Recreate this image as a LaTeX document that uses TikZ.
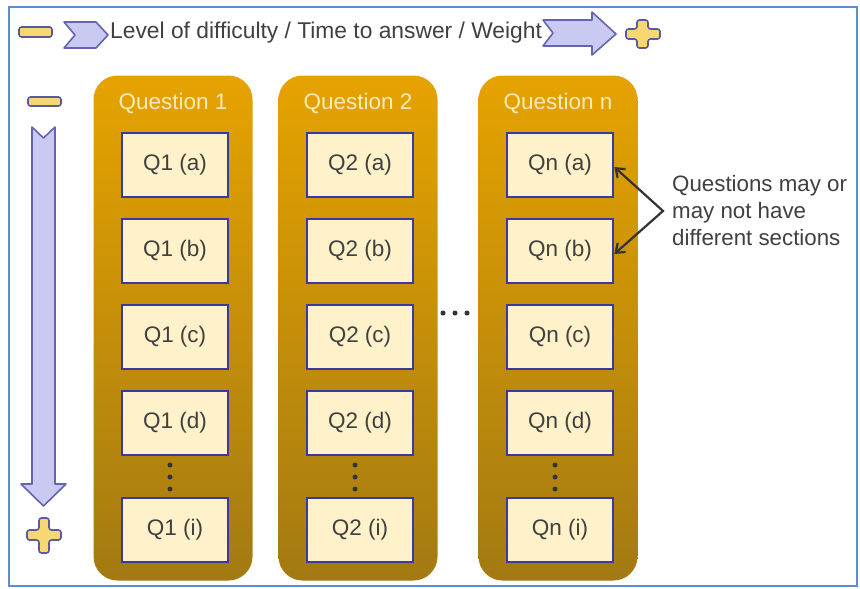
\documentclass[tikz,border=0pt]{standalone}
\usepackage{fontspec}
\setmainfont{Liberation Sans}
\usetikzlibrary{arrows.meta}
\definecolor{frameblue}{HTML}{5B8FCF}
\definecolor{coltop}{HTML}{E6A300}
\definecolor{colbot}{HTML}{A37A12}
\definecolor{boxfill}{HTML}{FFF1C9}
\definecolor{boxline}{HTML}{3A3A9E}
\definecolor{titletext}{HTML}{FCEBB8}
\definecolor{txt}{HTML}{404040}
\definecolor{lav}{HTML}{C9C9F2}
\definecolor{lavline}{HTML}{6464B0}
\definecolor{yel}{HTML}{F7D772}
\definecolor{yelline}{HTML}{5A5A9E}
\tikzset{
  column/.style={rounded corners=24pt, minimum width=159pt, minimum height=505pt,
     top color=coltop, bottom color=colbot, draw=none, inner sep=0pt},
  coltitle/.style={text=titletext, font=\fontsize{22.5}{24}\selectfont},
  qbox/.style={draw=boxline, line width=2.6pt, fill=boxfill, minimum width=106pt,
     minimum height=64pt, inner sep=0pt, text=txt, font=\fontsize{22.5}{24}\selectfont},
  vdot/.style={circle, fill=black!80, inner sep=0pt, minimum size=5pt},
  lavshape/.style={fill=lav, draw=lavline, line width=1.6pt, line join=round},
  yelshape/.style={fill=yel, draw=yelline, line width=1.6pt, rounded corners=2.5pt},
  note/.style={text=txt, font=\fontsize{22.3}{27}\selectfont, align=left},
  callout/.style={draw=black!80, line width=2.2pt, {Straight Barb[length=8pt,width=12pt]}-{Straight Barb[length=8pt,width=12pt]}}
}
\begin{document}
\begin{tikzpicture}[x=1pt,y=-1pt]
\useasboundingbox (0,0) rectangle (860,589);
\fill[white] (0,0) rectangle (860,589);
\draw[frameblue, line width=1.8pt] (9,7) rectangle (857,586);

% top legend
\draw[yelshape] (19,27) rectangle (52,37);
\draw[lavshape] (64,22) -- (96,22) -- (108,35) -- (96,48) -- (64,48) -- (75,35) -- cycle;
\node[anchor=west, inner sep=0pt, text=txt, font=\fontsize{22.8}{24}\selectfont] (toplabel) at (110,33) {Level of difficulty / Time to answer / Weight};
\draw[lavshape] (543,20) -- (592,20) -- (592,12) -- (616,34) -- (592,55) -- (592,46) -- (543,46) -- (553,33) -- cycle;
\draw[yelshape] (637,20) -- (648,20) -- (648,29) -- (660,29) -- (660,39) -- (648,39) -- (648,48) -- (637,48) -- (637,39) -- (626,39) -- (626,29) -- (637,29) -- cycle;

% left legend
\draw[yelshape] (28,97) rectangle (61,106);
\draw[lavshape] (32,127) -- (43.5,138) -- (55,127) -- (55,484) -- (66,484) -- (43.5,506) -- (21,484) -- (32,484) -- cycle;
\draw[yelshape] (39,518) -- (49,518) -- (49,530) -- (61,530) -- (61,540) -- (49,540) -- (49,553) -- (39,553) -- (39,540) -- (27,540) -- (27,530) -- (39,530) -- cycle;

% columns
\node[column] (col1) at (173,328) {};
\node[column] (col2) at (358,328) {};
\node[column] (coln) at (558,328) {};
\node[coltitle] (t1) at (173,103) {Question 1};
\node[coltitle] (t2) at (358,103) {Question 2};
\node[coltitle] (tn) at (558,103) {Question n};

% boxes column 1
\node[qbox] (q1a) at (175,165) {Q1 (a)};
\node[qbox] (q1b) at (175,251) {Q1 (b)};
\node[qbox] (q1c) at (175,337) {Q1 (c)};
\node[qbox] (q1d) at (175,423) {Q1 (d)};
\node[qbox] (q1i) at (175,530) {Q1 (i)};
% column 2
\node[qbox] (q2a) at (360,165) {Q2 (a)};
\node[qbox] (q2b) at (360,251) {Q2 (b)};
\node[qbox] (q2c) at (360,337) {Q2 (c)};
\node[qbox] (q2d) at (360,423) {Q2 (d)};
\node[qbox] (q2i) at (360,530) {Q2 (i)};
% column n
\node[qbox] (qna) at (560,165) {Qn (a)};
\node[qbox] (qnb) at (560,251) {Qn (b)};
\node[qbox] (qnc) at (560,337) {Qn (c)};
\node[qbox] (qnd) at (560,423) {Qn (d)};
\node[qbox] (qni) at (560,530) {Qn (i)};

% vertical dots
\foreach \c/\xx in {1/170, 2/355, n/555} {
  \node[vdot] (d\c a) at (\xx,465) {};
  \node[vdot] (d\c b) at (\xx,477) {};
  \node[vdot] (d\c c) at (\xx,489) {};
}
% horizontal dots
\node[vdot] (ha) at (443,313) {};
\node[vdot] (hb) at (455,313) {};
\node[vdot] (hc) at (467,313) {};

% note
\node[note, anchor=north west, inner sep=0pt] (note) at (672,175) {Questions may or\\may not have\\different sections};
\coordinate (v) at (663,211);
\draw[callout] ([yshift=-2pt]qna.east) -- (v) -- ([yshift=-3pt]qnb.east);
\end{tikzpicture}
\end{document}
